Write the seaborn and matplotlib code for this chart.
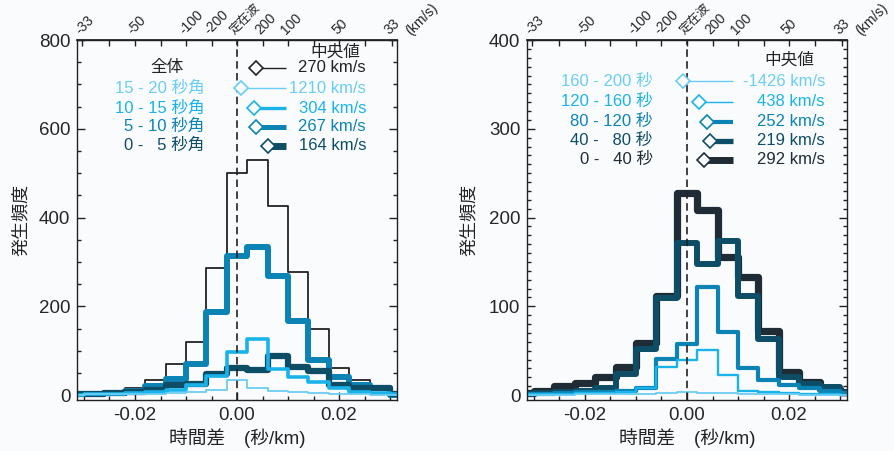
import numpy as np
import pandas as pd
import matplotlib
matplotlib.use("Agg")
import matplotlib.pyplot as plt
import seaborn as sns
from matplotlib.ticker import MultipleLocator, FixedLocator
from matplotlib.transforms import blended_transform_factory

# ---------------- data ----------------
bin_centers = [-0.032, -0.028, -0.024, -0.020, -0.016, -0.012, -0.008, -0.004, 0.000,
               0.004, 0.008, 0.012, 0.016, 0.020, 0.024, 0.028, 0.032]
bin_width = 0.004

# left panel (angular separation groups)
left_all   = [2, 4, 9, 15, 34, 71, 120, 287, 500, 529, 426, 278, 148, 60, 35, 15, 4]
left_15_20 = [1, 2, 2, 3, 3, 4, 6, 11, 35, 15, 10, 6, 4, 3, 2, 1, 1]
left_10_15 = [1, 2, 3, 5, 8, 12, 22, 42, 98, 126, 58, 41, 30, 15, 8, 4, 2]
left_5_10  = [2, 3, 5, 9, 20, 36, 71, 188, 313, 334, 268, 167, 80, 41, 22, 15, 0]
left_0_5   = [2, 3, 5, 7, 11, 22, 25, 47, 62, 56, 87, 64, 54, 22, 16, 15, 2]

# right panel (time-separation groups)
right_160_200 = [0, 0, 0, 1, 1, 1, 1, 2, 3, 2, 2, 1, 1, 1, 0, 0, 0]
right_120_160 = [1, 1, 1, 2, 2, 3, 8, 32, 40, 51, 23, 5, 3, 2, 1, 1, 0]
right_80_120  = [1, 1, 2, 3, 4, 5, 8, 41, 58, 122, 71, 30, 17, 11, 8, 5, 2]
right_40_80   = [1, 2, 3, 5, 8, 24, 52, 109, 171, 148, 174, 112, 63, 20, 12, 9, 3]
right_0_40    = [2, 5, 10, 14, 20, 32, 59, 112, 228, 208, 156, 133, 72, 26, 15, 7, 3]

left_labels  = ["全体", "15 - 20 秒角", "10 - 15 秒角", "5 - 10 秒角", "0 -   5 秒角"]
left_medians = [270, 1210, 304, 267, 164]
right_labels  = ["160 - 200 秒", "120 - 160 秒", "80 - 120 秒", "40 -   80 秒", "0 -   40 秒"]
right_medians = [-1426, 438, 252, 219, 292]

top_tick_pos = [-1 / 33, -0.02, -0.01, -0.005, 0.0, 0.005, 0.01, 0.02, 1 / 33]
top_tick_labels = ["-33", "-50", "-100", "-200", "定在波", "200", "100", "50", "33"]
top_minor = [-0.025, -0.015, 0.015, 0.025]
bottom_ticks = [-0.02, 0.0, 0.02]
bottom_labels = ["-0.02", "0.00", "0.02"]

# ---------------- style ----------------
BG = "#fafbfd"
C_BLACK = "#222222"
C_DARKEST = "#1f2b35"
C_LIGHT = "#6acdf3"
C_CYAN = "#19b3ea"
C_MED = "#0b83b4"
C_TEAL = "#0d4e66"

sns.set_theme(style="ticks")
plt.rcParams["font.family"] = ["Liberation Sans", "Noto Sans CJK JP", "DejaVu Sans"]
plt.rcParams["axes.unicode_minus"] = False
plt.rcParams["xtick.labelsize"] = 13.5
plt.rcParams["ytick.labelsize"] = 13.5

fig = plt.figure(figsize=(8.94, 4.51), dpi=100, facecolor=BG)
axL = fig.add_axes([0.0865, 0.1131, 0.3573, 0.7982], facecolor=BG)
axR = fig.add_axes([0.5898, 0.1131, 0.3573, 0.7982], facecolor=BG)

lo = bin_centers[0] - bin_width / 2
hi = bin_centers[-1] + bin_width / 2


def draw_hist(ax, vals, color, lw):
    df = pd.DataFrame({"t": bin_centers, "n": vals})
    sns.histplot(data=df, x="t", weights="n", binwidth=bin_width, binrange=(lo, hi),
                 element="step", fill=False, color=color, linewidth=lw, ax=ax)


left_series = [(left_all, C_BLACK, 1.3), (left_5_10, C_MED, 4.3), (left_0_5, C_TEAL, 4.5),
               (left_10_15, C_CYAN, 2.6), (left_15_20, C_LIGHT, 1.3)]
for vals, c, lw in left_series:
    draw_hist(axL, vals, c, lw)

right_series = [(right_0_40, C_DARKEST, 5.2), (right_40_80, C_TEAL, 4.3), (right_80_120, C_MED, 3.0),
                (right_120_160, C_CYAN, 1.7), (right_160_200, C_LIGHT, 1.3)]
for vals, c, lw in right_series:
    draw_hist(axR, vals, c, lw)


def style_axes(ax, ymax, ymin, major, minor, lab_x, lab_y):
    ax.set_xlim(-0.0313, 0.0313)
    ax.set_ylim(ymin, ymax)
    ax.axvline(0, color=C_BLACK, lw=1.2, ls=(0, (4.5, 2.6)), zorder=6)
    ax.set_xticks(bottom_ticks, labels=bottom_labels)
    ax.xaxis.set_minor_locator(MultipleLocator(0.005))
    ax.yaxis.set_major_locator(MultipleLocator(major))
    ax.yaxis.set_minor_locator(MultipleLocator(minor))
    ax.tick_params(axis="both", which="both", direction="in", top=False, right=True,
                   color=C_BLACK, width=1.0)
    ax.tick_params(axis="both", which="major", length=5.5, pad=5)
    ax.tick_params(axis="both", which="minor", length=3)
    for s in ax.spines.values():
        s.set_color(C_BLACK)
        s.set_linewidth(1.0)
    ax.set_xlabel("時間差\u3000(秒/km)", fontsize=13.5, color=C_BLACK)
    ax.set_ylabel("発生頻度", fontsize=13, color=C_BLACK)
    ax.xaxis.set_label_coords(0.5, lab_y)
    ax.yaxis.set_label_coords(lab_x, 0.5)

    sec = ax.secondary_xaxis("top")
    sec.set_xticks(top_tick_pos, labels=top_tick_labels)
    sec.xaxis.set_minor_locator(FixedLocator(top_minor))
    sec.tick_params(axis="x", which="both", direction="in", color=C_BLACK, width=1.0, pad=2)
    sec.tick_params(axis="x", which="major", length=4, labelsize=10)
    sec.tick_params(axis="x", which="minor", length=4)
    sec.spines["top"].set_color(C_BLACK)
    for t in sec.get_xticklabels():
        t.set_rotation(45)
        t.set_ha("left")
        t.set_va("bottom")
        t.set_rotation_mode("anchor")
        if t.get_text() == "定在波":
            t.set_fontsize(9)
    ax.text(1.051, 1.006, "(km/s)", transform=ax.transAxes, rotation=45, fontsize=10,
            ha="left", va="bottom", rotation_mode="anchor", color=C_BLACK)


style_axes(axL, 800, -11, 200, 50, -0.148, -0.078)
style_axes(axR, 400, -5.5, 100, 10, -0.154, -0.078)


def legend_rows(ax, labels, medians, colors, lws, rows_y, lab_x, val_x, line_end,
                title_y, title_x, first_centered=False):
    tr = blended_transform_factory(ax.transData, ax.transAxes)
    ax.text(title_x, title_y, "中央値", transform=ax.transAxes, ha="center", va="center",
            fontsize=12, color=C_BLACK)
    for i, (lab, med, c, lw, y) in enumerate(zip(labels, medians, colors, lws, rows_y)):
        if first_centered and i == 0:
            ax.text(0.28, y, lab, transform=ax.transAxes, ha="center", va="center",
                    fontsize=12, color=c)
        else:
            ax.text(lab_x, y, lab, transform=ax.transAxes, ha="right", va="center",
                    fontsize=12, color=c)
        xm = 1.0 / med
        ax.plot([xm, line_end], [y, y], transform=tr, color=c, lw=lw,
                solid_capstyle="butt", zorder=7, clip_on=False)
        ax.plot([xm], [y], transform=tr, marker="D", ms=6.8, mfc=BG, mec=c, mew=1.2,
                zorder=8, clip_on=False, ls="none")
        ax.text(val_x, y, f"{med} km/s", transform=ax.transAxes, ha="right", va="center",
                fontsize=12, color=c)


legend_rows(axL, left_labels, left_medians,
            [C_BLACK, C_LIGHT, C_CYAN, C_MED, C_TEAL], [1.0, 1.0, 2.4, 3.6, 5.0],
            [0.9236, 0.8653, 0.8111, 0.7597, 0.7069], 0.399, 0.904, 0.0095,
            0.967, 0.807, first_centered=True)
legend_rows(axR, right_labels, right_medians,
            [C_LIGHT, C_CYAN, C_MED, C_TEAL, C_DARKEST], [1.0, 1.0, 3.0, 3.8, 5.0],
            [0.886, 0.828, 0.773, 0.720, 0.6675], 0.3926, 0.932, 0.00905,
            0.944, 0.819)

fig.savefig("out.png", dpi=100, facecolor=BG)
